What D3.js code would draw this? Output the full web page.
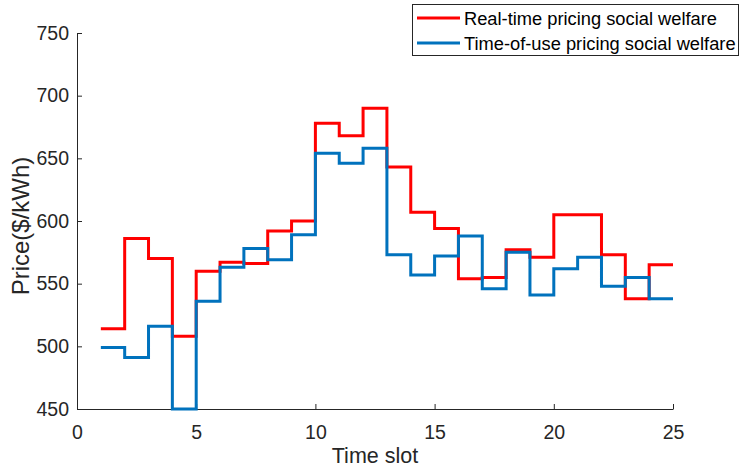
<!DOCTYPE html>
<html>
<head>
<meta charset="utf-8">
<script src="https://cdn.jsdelivr.net/npm/d3@7/dist/d3.min.js"></script>
<style>
  html, body { margin: 0; padding: 0; background: #fff; }
  svg { display: block; font-family: "Liberation Sans", Arial, sans-serif; }
</style>
</head>
<body>
<svg id="chart" width="741" height="468"></svg>
<script>
// Hourly time slots and the two price series
const slots = d3.range(1, 25);
const realTime = [514, 586, 570, 508, 560, 567, 566, 592, 600, 678, 668, 690,
                  643, 607, 594, 554, 555, 577, 571, 605, 605, 573, 538, 565];
const timeOfUse = [499, 491, 516, 450, 536, 563, 578, 569, 589, 654, 646, 658,
                   573, 557, 572, 588, 546, 575, 541, 562, 571, 548, 555, 538];
const xTicks = [0, 5, 10, 15, 20, 25];
const yTicks = [450, 500, 550, 600, 650, 700, 750];
const seriesNames = ["Real-time pricing social welfare", "Time-of-use pricing social welfare"];
const seriesColors = ["#ff0000", "#0072bd"];

const svg = d3.select("#chart");
const m = { left: 77, right: 673, top: 33, bottom: 409 };

const x = d3.scaleLinear().domain([0, 25]).range([m.left, m.right]);
const y = d3.scaleLinear().domain([450, 750]).range([m.bottom, m.top]);

const axisColor = "#262626";

// x axis
const gx = svg.append("g")
  .attr("transform", `translate(0,${m.bottom})`)
  .call(d3.axisBottom(x).tickValues(xTicks).tickSizeInner(-5).tickSizeOuter(0).tickPadding(16));
// y axis
const gy = svg.append("g")
  .attr("transform", `translate(${m.left},0)`)
  .call(d3.axisLeft(y).tickValues(yTicks).tickSizeInner(-5).tickSizeOuter(0).tickPadding(8));

[gx, gy].forEach(g => {
  g.select(".domain").attr("stroke", axisColor).attr("stroke-width", 1);
  g.selectAll(".tick line").attr("stroke", axisColor);
  g.selectAll(".tick text").attr("fill", axisColor).style("font-size", "19.5px")
    .style("font-family", "'Liberation Sans', Arial, sans-serif");
});

// axis titles
svg.append("text")
  .attr("x", (m.left + m.right) / 2).attr("y", 463)
  .attr("text-anchor", "middle").attr("fill", axisColor)
  .style("font-size", "21.5px").text("Time slot");
svg.append("text")
  .attr("transform", `translate(28.5,226) rotate(-90)`)
  .attr("text-anchor", "middle").attr("fill", axisColor)
  .style("font-size", "24px").text("Price($/kWh)");

// stair lines: each value holds from its slot to the next, last one held to slot 25
const stair = d3.line()
  .x(d => x(d[0])).y(d => y(d[1]))
  .curve(d3.curveStepAfter);

[realTime, timeOfUse].forEach((vals, i) => {
  const pts = slots.map((s, k) => [s, vals[k]]);
  pts.push([slots[slots.length - 1] + 1, vals[vals.length - 1]]);
  svg.append("path")
    .datum(pts)
    .attr("fill", "none")
    .attr("stroke", seriesColors[i])
    .attr("stroke-width", 3)
    .attr("stroke-linejoin", "miter")
    .attr("d", stair);
});

// legend
const lg = svg.append("g");
lg.append("rect")
  .attr("x", 412.5).attr("y", 4.5).attr("width", 326).attr("height", 51)
  .attr("fill", "#fff").attr("stroke", axisColor).attr("stroke-width", 1);
seriesNames.forEach((name, i) => {
  const yy = 18 + i * 25;
  lg.append("line")
    .attr("x1", 417).attr("x2", 460).attr("y1", yy).attr("y2", yy)
    .attr("stroke", seriesColors[i]).attr("stroke-width", 3);
  lg.append("text")
    .attr("x", 464).attr("y", yy + 6.5)
    .attr("fill", "#000").style("font-size", "18.3px").text(name);
});
</script>
</body>
</html>
